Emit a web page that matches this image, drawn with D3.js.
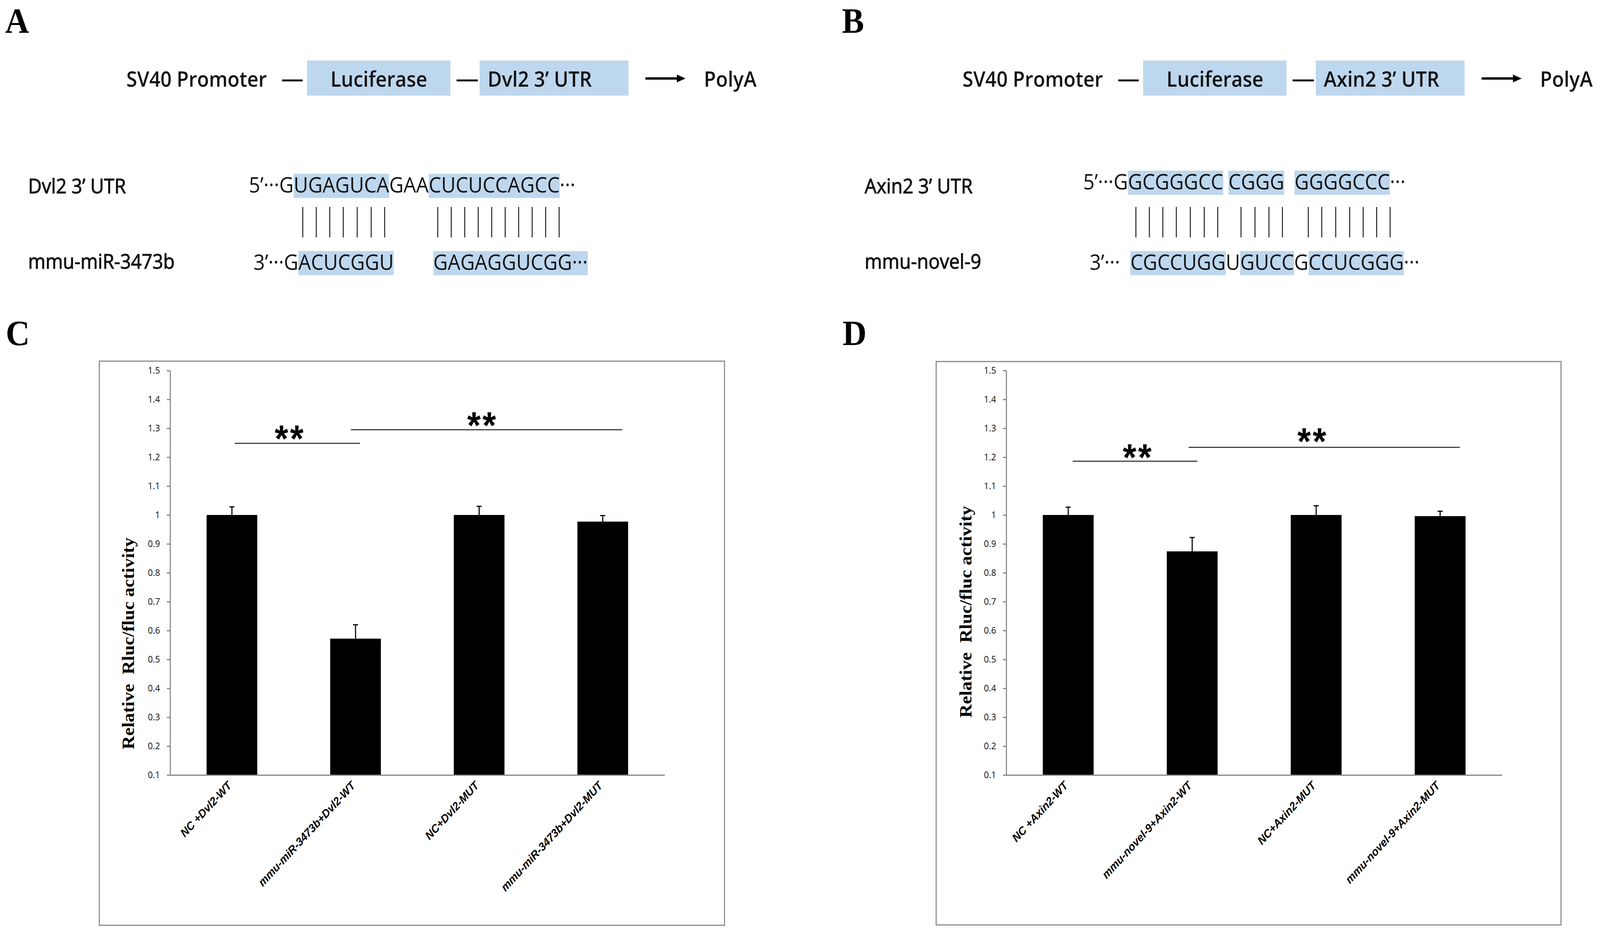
<!DOCTYPE html>
<html><head><meta charset="utf-8">
<script src="https://cdn.jsdelivr.net/npm/d3@7"></script>
<style>
html,body{margin:0;padding:0;background:#fff;overflow:hidden;width:100%;height:100%;}
svg{display:block;width:100vw;height:100vh;}
text{white-space:pre;}
</style></head><body>
<svg id="fig" viewBox="0 0 4430 2382" preserveAspectRatio="none"></svg>
<script>
// ================= DATA =================
const panelLetters = ["A", "B", "C", "D"];

const constructA = ["SV40 Promoter", "Luciferase", "Dvl2 3’ UTR", "PolyA"];
const constructB = ["SV40 Promoter", "Luciferase", "Axin2 3’ UTR", "PolyA"];

const seqLabelsA = ["Dvl2 3’ UTR", "mmu-miR-3473b"];
const seqLabelsB = ["Axin2 3’ UTR", "mmu-novel-9"];

// [text, highlight (1 = boxed, 0 = plain, -1 = spacer), pairing group]
const utrSegA = [["5’···G", 0], ["UGAGUCA", 1, "p1"], ["GAA", 0], ["CUCUCCAGCC", 1, "p2"], ["···", 0]];
const mirSegA = [["3’···G", 0], ["ACUCGGU", 1, "p1"], ["GAA", -1], ["GAGAGGUCGG···", 1, "p2"]];
const utrSegB = [["5’···G", 0], ["GCGGGCC", 1, "p1"], [" ", 0], ["CGGG", 1, "p2"], ["  ", 0], ["GGGGCCC", 1, "p3"], ["···", 0]];
const mirSegB = [["3’···  ", 0], ["CGCCUGG", 1, "p1"], ["U", 0], ["GUCC", 1, "p2"], ["G", 0], ["CCUCGGG", 1, "p3"], ["···", 0]];

const catsC = ["NC +Dvl2-WT", "mmu-miR-3473b+Dvl2-WT", "NC+Dvl2-MUT", "mmu-miR-3473b+Dvl2-MUT"];
const valsC = [1.000, 0.572, 1.000, 0.977];
const errC  = [0.028, 0.048, 0.030, 0.021];

const catsD = ["NC +Axin2-WT", "mmu-novel-9+Axin2-WT", "NC+Axin2-MUT", "mmu-novel-9+Axin2-MUT"];
const valsD = [1.000, 0.874, 1.000, 0.996];
const errD  = [0.027, 0.048, 0.032, 0.017];

const yTicks = [0.1, 0.2, 0.3, 0.4, 0.5, 0.6, 0.7, 0.8, 0.9, 1.0, 1.1, 1.2, 1.3, 1.4, 1.5];
const yTitle = "Relative  Rluc/fluc activity";

// significance brackets: x in category units (0..4), y in data units; star label position
const sigC = [
  {x1: 0.523, x2: 1.536, y: 1.248, sx: 0.970, sy: 1.290, label: "**"},
  {x1: 1.463, x2: 3.658, y: 1.295, sx: 2.527, sy: 1.337, label: "**"}
];
const sigD = [
  {x1: 0.536, x2: 1.541, y: 1.186, sx: 1.064, sy: 1.226, label: "**"},
  {x1: 1.471, x2: 3.659, y: 1.234, sx: 2.472, sy: 1.281, label: "**"}
];

// ================= LAYOUT / STYLE =================
const svg = d3.select("#fig");
svg.append("rect").attr("width", 4430).attr("height", 2382).attr("fill", "#fff");

const HL = "#bdd7ee";
const SANS = "'Open Sans','Noto Sans',sans-serif";
const SERIF = "'Liberation Serif','Times New Roman',serif";
const ARIAL = "'Liberation Sans',Arial,sans-serif";

// panel letters
const letterPos = [[14, 84], [2331, 84], [16, 884], [2333, 884]];
svg.selectAll("text.plabel").data(panelLetters).join("text")
  .attr("class", "plabel")
  .attr("x", (d, i) => letterPos[i][0]).attr("y", (d, i) => letterPos[i][1])
  .style("font-family", SERIF).style("font-weight", "bold").style("font-size", "92px")
  .attr("fill", "#000").text(d => d);

// ---------- construct diagrams (A, B) ----------
function drawConstruct(parts, dx) {
  const g = svg.append("g").attr("transform", `translate(${dx},0)`);
  const base = 222, fs = "54px";
  const txt = (x, t, anchor) => g.append("text").attr("x", x).attr("y", base)
    .attr("text-anchor", anchor || "start")
    .style("font-family", SANS).style("font-size", fs).style("font-weight", 600)
    .attr("fill", "#111").text(t);
  txt(350, parts[0]);
  g.append("line").attr("x1", 781).attr("x2", 838).attr("y1", 206).attr("y2", 206)
    .attr("stroke", "#111").attr("stroke-width", 5);
  g.append("rect").attr("x", 850).attr("y", 155).attr("width", 397).attr("height", 90).attr("fill", HL);
  txt(1049, parts[1], "middle");
  g.append("line").attr("x1", 1264).attr("x2", 1323).attr("y1", 206).attr("y2", 206)
    .attr("stroke", "#111").attr("stroke-width", 5);
  g.append("rect").attr("x", 1328).attr("y", 155).attr("width", 412).attr("height", 90).attr("fill", HL);
  txt(1350, parts[2]);
  g.append("line").attr("x1", 1787).attr("x2", 1878).attr("y1", 201).attr("y2", 201)
    .attr("stroke", "#000").attr("stroke-width", 6);
  g.append("path").attr("d", "M1874,191 L1898,201 L1874,211 Z").attr("fill", "#000");
  txt(1949, parts[3]);
}
drawConstruct(constructA, 0);
drawConstruct(constructB, 2315);

// ---------- sequence alignments ----------
function drawRow(gBox, gTxt, segs, x0, baseline) {
  let x = x0;
  const centers = {};
  segs.forEach(s => {
    const t = gTxt.append("text").attr("x", x).attr("y", baseline)
      .style("font-family", SANS).style("font-size", "55px").attr("fill", "#111").text(s[0]);
    if (s[1] === -1) t.attr("fill", "none");
    const node = t.node();
    const w = node.getComputedTextLength();
    if (s[1] === 1) {
      gBox.append("rect").attr("x", x).attr("y", baseline - 48).attr("width", w).attr("height", 62).attr("fill", HL);
    }
    if (s[2]) {
      const c = [];
      for (let i = 0; i < s[0].length; i++) {
        const a = node.getStartPositionOfChar(i).x, b = node.getEndPositionOfChar(i).x;
        c.push((a + b) / 2);
      }
      centers[s[2]] = c;
    }
    x += w;
  });
  return centers;
}

function drawAlignment(labels, labelX, utr, mir, rowX, rowBase, utrSegs) {
  const gBox = svg.append("g"), gTxt = svg.append("g"), gLines = svg.append("g");
  labels.forEach((l, i) => {
    gTxt.append("text").attr("x", labelX).attr("y", [495, 688][i])
      .style("font-family", SANS).style("font-size", "52px").style("font-weight", 500)
      .attr("fill", "#111").attr("stroke", "#111").attr("stroke-width", 1.3).text(l);
  });
  const cu = drawRow(gBox, gTxt, utr, rowX[0], rowBase[0]);
  const cm = drawRow(gBox, gTxt, mir, rowX[1], rowBase[1]);
  utrSegs.filter(s => s[2]).forEach(s => {
    const n = s[0].length;
    const xs = d3.range(n).map(i => (cu[s[2]][i] + cm[s[2]][i]) / 2);
    gLines.selectAll(null).data(xs).join("line")
      .attr("x1", d => d).attr("x2", d => d).attr("y1", 530).attr("y2", 608)
      .attr("stroke", "#111").attr("stroke-width", 2.5);
  });
}
drawAlignment(seqLabelsA, 78, utrSegA, mirSegA, [689, 702], [493, 691], utrSegA);
drawAlignment(seqLabelsB, 2394, utrSegB, mirSegB, [2999, 3017], [485, 691], utrSegB);

// ---------- bar charts (C, D) ----------
function drawChart(cfg) {
  const g = svg.append("g");
  const [fx0, fy0, fx1, fy1] = cfg.frame;
  g.append("rect").attr("x", fx0).attr("y", fy0).attr("width", fx1 - fx0).attr("height", fy1 - fy0)
    .attr("fill", "none").attr("stroke", "#8a8a8a").attr("stroke-width", 3);

  const y = d3.scaleLinear().domain([0.1, 1.5]).range([1985, 949]);
  const x = d3.scaleBand().domain(cfg.cats).range([cfg.x0, cfg.x1]).paddingInner(0.59).paddingOuter(0.295);
  const xu = d3.scaleLinear().domain([0, 4]).range([cfg.x0, cfg.x1]);

  // bars
  g.selectAll("rect.bar").data(cfg.vals).join("rect").attr("class", "bar")
    .attr("x", (d, i) => x(cfg.cats[i])).attr("width", x.bandwidth())
    .attr("y", d => y(d)).attr("height", d => y(0.1) - y(d)).attr("fill", "#000");

  // error bars
  const eb = g.selectAll("g.eb").data(cfg.vals).join("g").attr("class", "eb");
  eb.append("line")
    .attr("x1", (d, i) => x(cfg.cats[i]) + x.bandwidth() / 2).attr("x2", (d, i) => x(cfg.cats[i]) + x.bandwidth() / 2)
    .attr("y1", d => y(d)).attr("y2", (d, i) => y(d + cfg.err[i]))
    .attr("stroke", "#000").attr("stroke-width", 3);
  eb.append("line")
    .attr("x1", (d, i) => x(cfg.cats[i]) + x.bandwidth() / 2 - 7).attr("x2", (d, i) => x(cfg.cats[i]) + x.bandwidth() / 2 + 7)
    .attr("y1", (d, i) => y(d + cfg.err[i])).attr("y2", (d, i) => y(d + cfg.err[i]))
    .attr("stroke", "#000").attr("stroke-width", 3);

  // y axis
  const ya = g.append("g").attr("transform", `translate(${cfg.x0},0)`)
    .call(d3.axisLeft(y).tickValues(yTicks).tickFormat(d3.format("~g")).tickSize(9).tickSizeOuter(0).tickPadding(19));
  ya.select(".domain").attr("stroke", "#868686").attr("stroke-width", 3);
  ya.selectAll(".tick line").attr("stroke", "#868686").attr("stroke-width", 3);
  ya.selectAll(".tick text").style("font-family", SANS).style("font-size", "24px").attr("fill", "#111");

  // x axis
  const xa = g.append("g").attr("transform", `translate(0,${y(0.1)})`)
    .call(d3.axisBottom(x).tickSize(0).tickSizeOuter(0));
  xa.select(".domain").attr("stroke", "#868686").attr("stroke-width", 3);
  xa.selectAll(".tick text")
    .attr("x", 0).attr("y", 0).attr("dy", null)
    .attr("transform", "translate(1,29) rotate(-45)")
    .attr("text-anchor", "end")
    .style("font-family", ARIAL).style("font-size", "29.5px").style("font-weight", "bold").style("font-style", "italic")
    .attr("fill", "#000");

  // y title
  g.append("text").attr("transform", `translate(${cfg.titleX},${cfg.titleY}) rotate(-90)`)
    .attr("text-anchor", "middle")
    .style("font-family", SERIF).style("font-weight", "bold").style("font-size", "48px")
    .attr("fill", "#000").text(yTitle);

  // significance
  g.selectAll("line.sig").data(cfg.sig).join("line").attr("class", "sig")
    .attr("x1", d => xu(d.x1)).attr("x2", d => xu(d.x2)).attr("y1", d => y(d.y)).attr("y2", d => y(d.y))
    .attr("stroke", "#222").attr("stroke-width", 2.5);
  g.selectAll("text.sig").data(cfg.sig).join("text").attr("class", "sig")
    .attr("x", d => xu(d.sx)).attr("y", d => y(d.sy) + 52)
    .attr("text-anchor", "middle")
    .style("font-family", ARIAL).style("font-weight", "bold").style("font-size", "96px")
    .style("letter-spacing", "5px")
    .attr("fill", "#000").text(d => d.label);
}

drawChart({frame: [275, 925, 2006, 2370], x0: 471, x1: 1840, cats: catsC, vals: valsC, err: errC,
  sig: sigC, titleX: 371, titleY: 1648});
drawChart({frame: [2592, 926, 4322, 2369], x0: 2786, x1: 4159, cats: catsD, vals: valsD, err: errD,
  sig: sigD, titleX: 2690, titleY: 1567});
</script>
</body></html>
